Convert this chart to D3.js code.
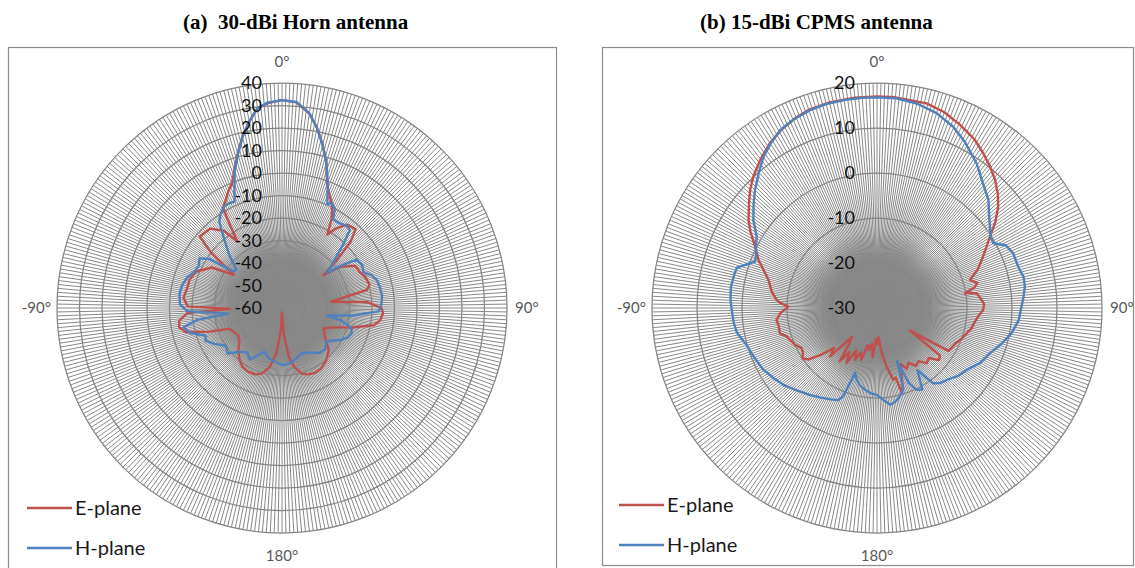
<!DOCTYPE html>
<html>
<head>
<meta charset="utf-8">
<script src="https://cdn.jsdelivr.net/npm/d3@7/dist/d3.min.js"></script>
<style>
  html, body { margin: 0; padding: 0; background: #ffffff; }
  svg { display: block; }
</style>
</head>
<body>
<svg id="fig" width="1135" height="568"></svg>
<script>
// ---------- Panel (a): 30-dBi horn antenna, gain in dB vs angle in degrees ----------
const hornTicks = [-60, -50, -40, -30, -20, -10, 0, 10, 20, 30, 40];

const hornHAngles = [-172, -165, -158, -154, -148, -142, -136, -130, -124, -118, -113, -110, -105, -101, -98, -96, -92, -88, -82, -77,
  -72, -67, -63, -59, -56, -53, -50, -45, -40, -36, -33, -30, -27, -24, -22, -19, -16, -13, -10, -7,
  -4, 0, 4, 8, 11, 14, 17, 20, 22, 23.5, 25.5, 28, 30, 34, 38, 41, 44, 48, 52, 55,
  57, 62, 66, 70, 74, 78, 83, 88, 92, 96, 99.5, 102, 106, 110, 114, 118, 124, 128, 134, 140,
  146, 152, 157, 163, 170, 176, 180];
const hornHValues = [-36, -37, -39, -37, -33, -35, -33, -28.5, -30, -26, -23, -24, -17.5, -15.5, -22, -36, -18, -14.6, -14, -14.5,
  -15.8, -18, -18.5, -17.2, -21, -33, -33.5, -27, -20, -12.6, -10, -8.2, -7.8, -8.2, -3.5, 4.5, 11, 18, 24, 29.5,
  31.5, 32.4, 31.8, 27.5, 21.5, 14.5, 7.5, -0.5, -6, -9.5, -8.5, -10, -14.5, -14.5, -13.5, -14, -21, -29, -34.5, -26,
  -20.5, -19.5, -20.5, -17.5, -16, -15.5, -15.2, -15.8, -17, -28, -40, -33, -28, -27, -28, -30, -34, -35, -33.5, -34,
  -36, -37.5, -38, -37, -35.5, -34.8, -34.7];

const hornEAngles = [-177, -173, -168, -163, -158, -152, -146, -140, -134, -128, -122, -116, -111.6, -108, -104, -100.6, -97, -93, -91, -89,
  -84, -78, -73, -67, -60, -55.6, -52, -49, -42, -37, -33.8, -32, -30.5, -27, -24.6, -22, -19, -16, -13, -10,
  -7, -4, 0, 4, 8, 11, 14, 17, 20, 23, 26, 29, 31.7, 34, 38, 43, 46, 49, 51.6, 55,
  60, 65, 70, 75, 78, 82.7, 86, 90, 93, 97, 100.6, 105, 111, 116, 121, 126, 132, 140, 147, 152,
  158, 163, 168, 172, 176, 180];
const hornEValues = [-50, -40, -33, -29.5, -28.2, -28, -28.5, -30.5, -33, -36, -37, -36, -35, -26, -16, -13.5, -14, -18, -37, -18,
  -16, -17, -17, -18.5, -24, -34, -20, -11.5, -12.5, -17, -24.4, -16, -8.4, -5.5, -2.8, -0.5, 5, 11.5, 18.2, 24,
  29.4, 31.3, 32.4, 31.6, 27.2, 21.6, 14.8, 7.5, -1.5, -5.8, -9, -14.5, -21.6, -17.5, -13, -12.1, -17.5, -28, -36.4, -28,
  -22.5, -21.9, -20.5, -19.7, -21.5, -38, -22, -15.8, -15, -16, -18.4, -27, -36, -39.3, -38, -36, -32, -29.5, -28, -27.6,
  -28.2, -29.4, -33, -38, -48, -58];

// ---------- Panel (b): 15-dBi CPMS antenna ----------
const cpmsTicks = [-30, -20, -10, 0, 10, 20];

const cpmsHAngles = [-180, -176, -172, -168, -164, -161.4, -159, -157.2, -153, -148, -142.4, -136, -129.4, -124, -118, -112, -106, -100, -96, -92,
  -87, -81.9, -77, -73.9, -71, -69.2, -66, -63, -59.3, -54.6, -50, -46, -41, -36.9, -33, -28.6, -24, -18.7, -14, -8,
  -4, 0, 5, 11, 17, 22.8, 28, 34.6, 40, 45.9, 50, 54.3, 58, 60.9, 64, 68.1, 73.7, 78, 81.8, 86,
  89.5, 95, 100.7, 106, 111.9, 118, 124.7, 130, 135, 140, 143.2, 147, 151, 154.2, 157, 159.3, 162, 166, 169, 172.2,
  176];
const cpmsHValues = [-10.7, -11, -11.6, -12.3, -13.5, -14.8, -9, -7.8, -7.2, -6.5, -5.6, -4.5, -3.1, -2.2, -1.2, -0.6, 0.1, 1.6, 2, 2.2,
  2.6, 2.8, 2.6, 2.4, 0.2, -1, -0.6, 0.2, 1.1, 3.7, 5.8, 7.7, 10, 12, 13.5, 15, 15.8, 16.4, 16.7, 16.8,
  16.8, 16.8, 16.8, 16.3, 15.3, 13.7, 11.7, 9, 6.5, 4.5, 2.5, 0.9, -0.2, -0.4, 1.8, 2.6, 2.7, 3.3, 3.2, 2.6,
  2.1, 1.6, 0.4, -1.2, -3, -4, -5.8, -6.5, -7.6, -8.2, -9.1, -13.5, -9.3, -9.8, -12, -17.4, -11, -9.5, -8.8, -8.3,
  -9.5];

const cpmsEAngles = [-178, -175, -172, -169, -166, -163, -160, -157, -154, -151, -148, -145, -142, -139, -136, -133, -130, -127, -124, -121,
  -118, -114, -110, -107, -104.6, -100, -96.8, -93, -89.1, -87, -85.4, -81, -75.5, -71, -68, -63.3, -59, -55.6, -51, -47.1,
  -43, -38, -33, -28, -23, -18.7, -13, -6, 0, 5, 13.6, 19, 24.4, 30, 34.5, 38.5, 42.7, 46.5, 50.1, 54,
  57.7, 61.5, 65.4, 69, 73.2, 76, 78, 80.5, 81.6, 85, 88, 91, 95, 99, 102, 105.8, 110, 114, 118, 121,
  124.5, 127, 130, 134, 138, 142, 146, 150, 154, 157, 160, 162, 163.6, 165, 167.2, 170.6, 174, 177, 180];
const cpmsEValues = [-23, -19, -22, -20.5, -21.5, -18, -19.5, -17.5, -19.5, -16, -18.5, -15.5, -20, -21.5, -15, -17, -14, -11, -10, -10.8,
  -11, -10, -9.4, -8.8, -7.7, -7.8, -7.5, -8.5, -10.3, -8.5, -7.6, -6.3, -5.1, -3.2, -1.6, 0.3, 2.8, 4.6, 6.6, 8.5,
  10.2, 12, 13.7, 15, 16, 16.6, 16.9, 17, 17, 17, 16.8, 16, 14.7, 13.3, 11.7, 10.3, 8.7, 7, 5.1, 2.5,
  -0.3, -2.5, -4.4, -6, -8.4, -7, -7.8, -10.2, -7.6, -6.8, -6.2, -6.4, -7.5, -8.2, -8.5, -9.3, -10, -10.8, -11.2, -11.5,
  -21.2, -12.5, -12, -14, -13.5, -15, -14.5, -16, -15, -16.5, -14, -11.5, -10.3, -14, -13.6, -16.8, -20, -23.6, -22];

const seriesNames = ["E-plane", "H-plane"];
const seriesColors = ["#C0504D", "#4F81BD"];
const directionLabels = ["0°", "90°", "180°", "-90°"];
const directionAngles = [0, 90, 180, -90];
const titles = ["(a)  30-dBi Horn antenna", "(b) 15-dBi CPMS antenna"];

// ---------- drawing ----------
const svg = d3.select("#fig");
const toRad = d => d * Math.PI / 180;

// where 360 spokes converge they merge into a solid grey disc
const defs = svg.append("defs");
const grad = defs.append("radialGradient").attr("id", "spokeCore");
grad.append("stop").attr("offset", "0%").attr("stop-color", "#888").attr("stop-opacity", 1);
grad.append("stop").attr("offset", "62%").attr("stop-color", "#888").attr("stop-opacity", 0.95);
grad.append("stop").attr("offset", "100%").attr("stop-color", "#888").attr("stop-opacity", 0);

const panels = [
  {
    cx: 282, cy: 308, R: 225, ticks: hornTicks,
    series: [[hornEAngles, hornEValues], [hornHAngles, hornHValues]],
    box: [8, 47, 548, 560], title: titles[0], titleX: 183,
    legendX: 27, legendY: [508, 548], labelGap: 20
  },
  {
    cx: 877, cy: 308, R: 225, ticks: cpmsTicks,
    series: [[cpmsEAngles, cpmsEValues], [cpmsHAngles, cpmsHValues]],
    box: [602, 47, 531, 518], title: titles[1], titleX: 700,
    legendX: 619, legendY: [505, 545], labelGap: 22
  }
];

panels.forEach(p => {
  // chart frame
  svg.append("rect")
    .attr("x", p.box[0] + 0.5).attr("y", p.box[1] + 0.5)
    .attr("width", p.box[2]).attr("height", p.box[3])
    .attr("fill", "none").attr("stroke", "#8c8c8c").attr("stroke-width", 1.2);

  // title above the chart
  svg.append("text")
    .attr("x", p.titleX).attr("y", 29)
    .attr("xml:space", "preserve")
    .style("white-space", "pre")
    .attr("font-family", "'Liberation Serif', 'Times New Roman', serif")
    .attr("font-weight", "bold").attr("font-size", 21)
    .attr("fill", "#000")
    .text(p.title);

  const r = d3.scaleLinear().domain(d3.extent(p.ticks)).range([0, p.R]);
  const g = svg.append("g").attr("transform", `translate(${p.cx},${p.cy})`);

  // dense hub of the spoke fan
  g.append("circle").attr("r", 78).attr("fill", "url(#spokeCore)");

  // one spoke per degree
  g.append("g").selectAll("line")
    .data(d3.range(0, 360, 1))
    .join("line")
    .attr("x1", 0).attr("y1", 0)
    .attr("x2", d => p.R * Math.sin(toRad(d)))
    .attr("y2", d => -p.R * Math.cos(toRad(d)))
    .attr("stroke", "#888888").attr("stroke-width", 1.0);

  // major gridline rings
  g.append("g").selectAll("circle")
    .data(p.ticks.slice(1))
    .join("circle")
    .attr("r", d => r(d))
    .attr("fill", "none").attr("stroke", "#858585").attr("stroke-width", 1.25);

  // traces
  const line = d3.lineRadial()
    .angle(d => toRad(d[0]))
    .radius(d => r(Math.max(d[1], p.ticks[0])))
    .curve(d3.curveLinearClosed);

  p.series.forEach((s, i) => {
    g.append("path")
      .datum(d3.zip(s[0], s[1]))
      .attr("d", line)
      .attr("fill", "none")
      .attr("stroke", seriesColors[i])
      .attr("stroke-width", 2.4)
      .attr("stroke-linejoin", "round");
  });

  // value axis labels along the 0° spoke
  g.append("g").selectAll("text")
    .data(p.ticks)
    .join("text")
    .attr("x", -p.labelGap)
    .attr("y", d => -r(d))
    .attr("dy", "0.35em")
    .attr("text-anchor", "end")
    .attr("font-family", "Lato, 'Open Sans', sans-serif")
    .attr("font-size", 18)
    .attr("fill", "#111")
    .text(d => d);

  // direction labels
  directionLabels.forEach((lab, i) => {
    const a = directionAngles[i];
    const t = g.append("text")
      .attr("font-family", "Lato, 'Open Sans', sans-serif")
      .attr("font-size", 15)
      .attr("fill", "#595959")
      .text(lab);
    if (a === 0) t.attr("x", 0).attr("y", -p.R - 16).attr("text-anchor", "middle");
    else if (a === 180) t.attr("x", 0).attr("y", p.R + 28).attr("text-anchor", "middle");
    else if (a === 90) t.attr("x", p.R + 8).attr("y", 5).attr("text-anchor", "start");
    else t.attr("x", -p.R - 6).attr("y", 5).attr("text-anchor", "end");
  });

  // legend
  seriesNames.forEach((name, i) => {
    const y = p.legendY[i];
    svg.append("line")
      .attr("x1", p.legendX).attr("x2", p.legendX + 45)
      .attr("y1", y).attr("y2", y)
      .attr("stroke", seriesColors[i]).attr("stroke-width", 2.4);
    svg.append("text")
      .attr("x", p.legendX + 48).attr("y", y + 7)
      .attr("font-family", "Lato, 'Open Sans', sans-serif")
      .attr("font-size", 20)
      .attr("fill", "#1a1a1a")
      .text(name);
  });
});
</script>
</body>
</html>
